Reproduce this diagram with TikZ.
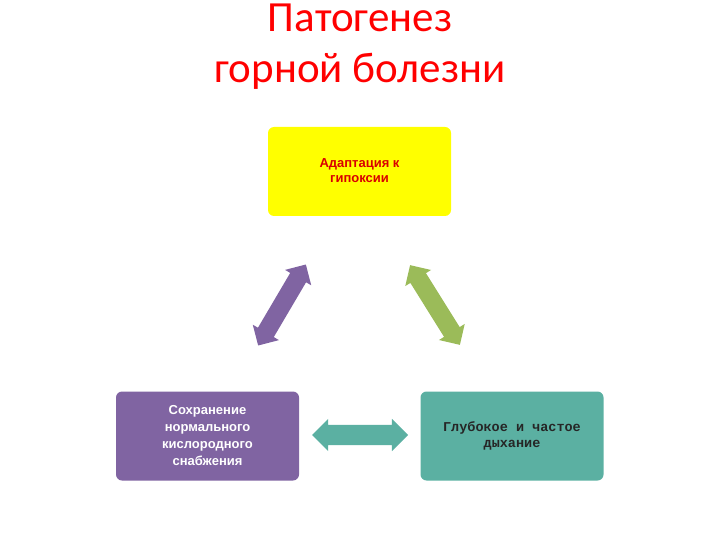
\documentclass[tikz,border=0pt]{standalone}
\usepackage{fontspec}
\setmainfont{Liberation Sans}
\setmonofont{Liberation Mono}
\newfontfamily\titlefont{Carlito}
\usetikzlibrary{shapes.arrows}
\definecolor{ylw}{RGB}{255,255,0}
\definecolor{purp}{RGB}{128,100,162}
\definecolor{grn}{RGB}{155,187,89}
\definecolor{teal2}{RGB}{91,176,162}
\begin{document}
\begin{tikzpicture}[x=1pt,y=-1pt,
  box/.style={rounded corners=6pt,minimum width=183pt,minimum height=89pt,inner sep=0pt},
  dar/.style={double arrow,draw=none,minimum height=96pt,minimum width=30pt,
    double arrow head extend=6pt,inner xsep=0pt,inner ysep=9pt}]
\useasboundingbox (0,0) rectangle (720,540);
\node[font=\titlefont\fontsize{43}{51}\selectfont,text=red,align=center] (title) at (360,47) {Патогенез\\горной болезни};
\node[box,fill=ylw] (a) at (359.5,171.5) {};
\node[font=\bfseries\fontsize{13}{15}\selectfont,text=red!85!black,align=center] (at) at (359.5,171) {Адаптация к\\гипоксии};
\node[box,fill=purp,font=\bfseries\fontsize{13}{17}\selectfont,text=white,align=center] (b) at (207.5,436) {Сохранение\\нормального\\кислородного\\снабжения};
\node[box,fill=teal2,font=\ttfamily\bfseries\fontsize{13.5}{16}\selectfont,text=black!85,align=center] (c) at (512,436) {Глубокое и частое\\дыхание};
\node[dar,fill=purp,rotate=59.5,minimum height=94pt] (ab) at (282,305) {};
\node[dar,fill=grn,rotate=-58,minimum height=94pt] (ac) at (435,305) {};
\node[dar,fill=teal2,minimum height=96pt,minimum width=32pt,inner ysep=10pt] (bc) at (360,435) {};
\end{tikzpicture}
\end{document}
